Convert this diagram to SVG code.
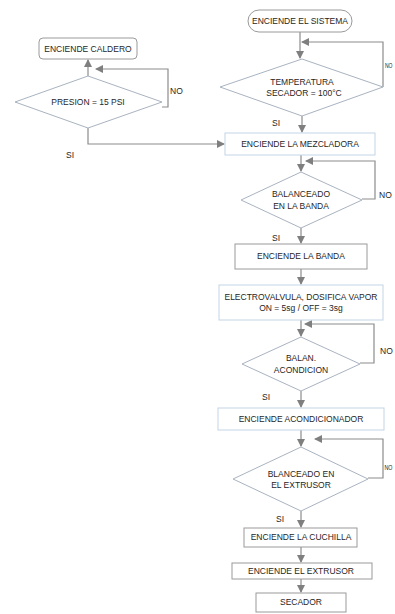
<svg xmlns="http://www.w3.org/2000/svg" width="395" height="614" viewBox="0 0 395 614">
<defs>
<marker id="ah" markerWidth="8" markerHeight="8" refX="7" refY="4" orient="auto" markerUnits="userSpaceOnUse">
<path d="M0,0 L8,4 L0,8 z" fill="#7f7f7f"/>
</marker>
<style>
.t{font-family:"Liberation Sans",Arial,sans-serif;font-size:8.5px;fill:#262626;text-anchor:middle;dominant-baseline:central}
.l{font-family:"Liberation Sans",Arial,sans-serif;font-size:8.5px;fill:#262626;dominant-baseline:central}
.s{font-size:7.5px}
.d{fill:#fff;stroke:#a9b3c0;stroke-width:1}
.bb{fill:#fff;stroke:#c3d3e6;stroke-width:1}
.bg{fill:#fff;stroke:#9a9a9a;stroke-width:1}
.c{fill:none;stroke:#8c8c8c;stroke-width:1.2;marker-end:url(#ah)}
</style>
</defs>
<rect width="395" height="614" fill="#fff"/>
<g id="connectors">
<path class="c" d="M88,76 L88,60"/>
<path class="c" d="M162,107 L168,107 L168,69 L96,69"/>
<path class="c" d="M88,128 L88,144 L224,144"/>
<path class="c" d="M300,32 L300,58"/>
<path class="c" d="M383,87 L383,42 L302,42"/>
<path class="c" d="M302,116 L302,132"/>
<path class="c" d="M301,155 L301,171"/>
<path class="c" d="M362,199 L375,199 L375,161 L306,161"/>
<path class="c" d="M301,228 L301,243"/>
<path class="c" d="M301,269 L301,284"/>
<path class="c" d="M301,320 L301,336"/>
<path class="c" d="M360,363 L374,363 L374,324 L305,324"/>
<path class="c" d="M301,391 L301,407"/>
<path class="c" d="M301,430 L301,446"/>
<path class="c" d="M368,478 L383,478 L383,439 L315,439"/>
<path class="c" d="M301,511 L301,527"/>
<path class="c" d="M301,547 L301,562"/>
<path class="c" d="M301,579 L301,592"/>
</g>
<g id="n-caldero"><rect class="bg" x="39" y="38" width="98" height="21" rx="4"/><text class="t" x="88" y="49">ENCIENDE CALDERO</text></g>
<g id="n-presion"><polygon class="d" points="88,76 162,102 88,128 15,102"/><text class="t" x="88" y="102">PRESION = 15 PSI</text></g>
<g id="n-sistema"><rect class="bg" x="248" y="10" width="104" height="22" rx="11"/><text class="t" x="300" y="21">ENCIENDE EL SISTEMA</text></g>
<g id="n-temp"><polygon class="d" points="302,59 383,87 302,116 220,87"/><text class="t" x="302" y="82">TEMPERATURA</text><text class="t" x="304" y="93">SECADOR  = 100°C</text></g>
<g id="n-mezcladora"><rect class="bb" x="225" y="133" width="150" height="22"/><text class="t" x="300" y="144">ENCIENDE LA MEZCLADORA</text></g>
<g id="n-balbanda"><polygon class="d" points="301,172 362,200 301,228 241,200"/><text class="t" x="301" y="194">BALANCEADO</text><text class="t" x="301" y="206">EN LA BANDA</text></g>
<g id="n-banda"><rect class="bg" x="235" y="244" width="132" height="25"/><text class="t" x="301" y="256">ENCIENDE LA BANDA</text></g>
<g id="n-electro"><rect class="bb" x="219" y="285" width="164" height="35"/><text class="t" x="301" y="297">ELECTROVALVULA, DOSIFICA VAPOR</text><text class="t" x="301" y="308">ON = 5sg / OFF = 3sg</text></g>
<g id="n-balan"><polygon class="d" points="301,337 360,364 301,391 242,364"/><text class="t" x="301" y="358">BALAN.</text><text class="t" x="301" y="370">ACONDICION</text></g>
<g id="n-acond"><rect class="bb" x="218" y="408" width="166" height="22"/><text class="t" x="301" y="419">ENCIENDE ACONDICIONADOR</text></g>
<g id="n-extrusor-d"><polygon class="d" points="301,447 368,479 301,511 233,479"/><text class="t" x="301" y="474">BLANCEADO EN</text><text class="t" x="301" y="485">EL EXTRUSOR</text></g>
<g id="n-cuchilla"><rect class="bg" x="244" y="528" width="113" height="19"/><text class="t" x="301" y="537">ENCIENDE LA CUCHILLA</text></g>
<g id="n-extrusor"><rect class="bg" x="232" y="563" width="140" height="16"/><text class="t" x="301" y="571">ENCIENDE EL EXTRUSOR</text></g>
<g id="n-secador"><rect class="bg" x="256" y="593" width="90" height="19"/><text class="t" x="301" y="602">SECADOR</text></g>
<g id="labels">
<text class="l" x="170" y="91">NO</text>
<text class="l" x="66" y="155">SI</text>
<text class="l s" x="385" y="65" textLength="7.5" lengthAdjust="spacingAndGlyphs">NO</text>
<text class="l" x="272" y="123">SI</text>
<text class="l" x="379" y="195">NO</text>
<text class="l" x="272" y="238">SI</text>
<text class="l" x="380" y="351">NO</text>
<text class="l" x="262" y="397">SI</text>
<text class="l s" x="384.5" y="467" textLength="8" lengthAdjust="spacingAndGlyphs">NO</text>
<text class="l" x="276" y="519">SI</text>
</g>
</svg>
